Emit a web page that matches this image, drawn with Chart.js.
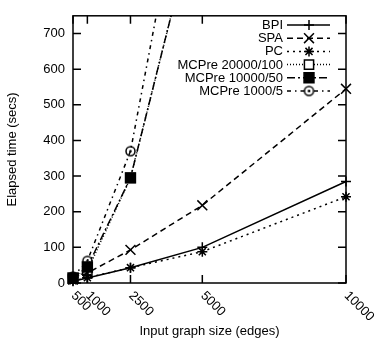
<!DOCTYPE html>
<html>
<head>
<meta charset="utf-8">
<script src="https://cdn.jsdelivr.net/npm/chart.js@4.4.0/dist/chart.umd.min.js"></script>
<style>
  html, body { margin: 0; padding: 0; background: #fff; }
  canvas { display: block; }
</style>
</head>
<body>
<canvas id="chart" width="376" height="342"></canvas>
<script>
// graph sizes (edges) and the labels shown under the x axis
const sizes = [500, 1000, 2500, 5000, 10000];
const sizeLabels = ['500', '1000', '2500', '5000', '10000'];
const yTicks = [0, 100, 200, 300, 400, 500, 600, 700];

// elapsed time in seconds
const bpi = [5, 14, 43, 100, 285];
const spa = [10, 28, 93, 218, 545];
const pc = [6, 15, 43, 88, 242];
const mcpre20000 = [12, 35, 295, 1100, null];
const mcpre10000 = [14, 45, 295, 1100, null];
const mcpre1000 = [18, 62, 370, 1430, null];

const FONT = 'Liberation Sans, Arial, Helvetica, sans-serif';

// open circle with a dot in the middle (gnuplot point type 6-ish)
function circleDot() {
  const c = document.createElement('canvas');
  c.width = 13; c.height = 13;
  const g = c.getContext('2d');
  g.lineWidth = 1.5;
  g.strokeStyle = '#000';
  g.beginPath(); g.arc(6.5, 6.5, 4.5, 0, Math.PI * 2); g.stroke();
  g.fillStyle = '#000';
  g.beginPath(); g.arc(6.5, 6.5, 1.3, 0, Math.PI * 2); g.fill();
  return c;
}

const pts = (ys) => sizes.map((x, i) => ({ x: x, y: ys[i] }));

// order: higher number is drawn first (underneath)
const series = [
  { label: 'BPI', data: bpi, dash: [], style: 'cross', r: 5, fill: '#000', order: 0 },
  { label: 'SPA', data: spa, dash: [6, 4], style: 'crossRot', r: 7, fill: '#000', order: 0 },
  { label: 'PC', data: pc, dash: [2, 4], style: 'star', r: 5, fill: '#000', order: 0 },
  { label: 'MCPre 20000/100', data: mcpre20000, dash: [1, 2], style: 'rect', r: 6.5, fill: '#fff', order: 2 },
  { label: 'MCPre 10000/50', data: mcpre10000, dash: [8, 3, 2, 3], style: 'rect', r: 7, fill: '#000', order: 1 },
  { label: 'MCPre 1000/5', data: mcpre1000, dash: [4, 4, 1.5, 4], style: circleDot(), r: 5, fill: '#fff', order: 0 },
];

const datasets = series.map(s => ({
  label: s.label,
  data: pts(s.data),
  order: s.order,
  borderColor: '#000',
  borderWidth: 1.5,
  borderDash: s.dash,
  pointStyle: s.style,
  pointRadius: s.r,
  pointBorderWidth: 1.5,
  pointBorderColor: '#000',
  pointBackgroundColor: s.fill,
  tension: 0,
  spanGaps: false,
  clip: { left: 10, top: 0, right: 10, bottom: 10 },
}));

function drawMarker(ctx, s, x, y) {
  ctx.save();
  ctx.setLineDash([]);
  ctx.lineWidth = 1.5;
  ctx.strokeStyle = '#000';
  ctx.fillStyle = s.fill;
  if (typeof s.style !== 'string') {
    ctx.drawImage(s.style, x - s.style.width / 2, y - s.style.height / 2);
  } else if (Chart.helpers && Chart.helpers.drawPoint) {
    Chart.helpers.drawPoint(ctx, { pointStyle: s.style, radius: s.r, rotation: 0, borderWidth: 1.5 }, x, y);
  }
  ctx.restore();
}

const framePlugin = {
  id: 'frame',
  afterDraw(chart) {
    const { ctx, chartArea: a, scales: { x, y } } = chart;
    ctx.save();
    ctx.strokeStyle = '#000';
    ctx.lineWidth = 1.5;
    ctx.setLineDash([]);
    ctx.strokeRect(a.left, a.top, a.right - a.left, a.bottom - a.top);

    // inward ticks on all four sides
    const tl = 8;
    ctx.beginPath();
    yTicks.forEach(v => {
      const py = y.getPixelForValue(v);
      ctx.moveTo(a.left, py); ctx.lineTo(a.left + tl, py);
      ctx.moveTo(a.right, py); ctx.lineTo(a.right - tl, py);
    });
    sizes.forEach(v => {
      const px = x.getPixelForValue(v);
      ctx.moveTo(px, a.bottom); ctx.lineTo(px, a.bottom - tl);
      ctx.moveTo(px, a.top); ctx.lineTo(px, a.top + tl);
    });
    ctx.stroke();

    // rotated x tick labels
    ctx.fillStyle = '#000';
    ctx.font = '13px ' + FONT;
    ctx.textAlign = 'left';
    ctx.textBaseline = 'top';
    sizes.forEach((v, i) => {
      const px = x.getPixelForValue(v);
      ctx.save();
      ctx.translate(px + 5, a.bottom + 6);
      ctx.rotate(Math.PI / 4);
      ctx.fillText(sizeLabels[i], 0, 0);
      ctx.restore();
    });

    // key in the top right corner
    const textRight = 283, lineL = 287, lineR = 330, mid = 309;
    const rowTop = 25, rowStep = 13.2;
    ctx.textAlign = 'right';
    ctx.textBaseline = 'middle';
    series.forEach((s, i) => {
      const ry = rowTop + i * rowStep;
      ctx.fillStyle = '#000';
      ctx.fillText(s.label, textRight, ry + 0.5);
      ctx.beginPath();
      ctx.setLineDash(s.dash);
      ctx.lineWidth = 1.5;
      ctx.moveTo(lineL, ry); ctx.lineTo(lineR, ry);
      ctx.stroke();
      drawMarker(ctx, s, mid, ry);
    });
    ctx.restore();
  }
};

new Chart(document.getElementById('chart'), {
  type: 'line',
  data: { datasets: datasets },
  options: {
    responsive: false,
    animation: false,
    events: [],
    layout: { padding: { top: 12, right: 30, bottom: 0, left: 0 } },
    plugins: { legend: { display: false }, tooltip: { enabled: false } },
    scales: {
      x: {
        type: 'linear',
        min: 500,
        max: 10000,
        grid: { display: false, drawTicks: false },
        border: { display: false },
        ticks: { display: false },
        title: {
          display: true,
          text: 'Input graph size (edges)',
          color: '#000',
          font: { family: FONT, size: 13 },
          padding: { top: 0, bottom: 3 },
        },
        afterFit(s) { s.height = 59; },
      },
      y: {
        min: 0,
        max: 750,
        grid: { display: false, drawTicks: false },
        border: { display: false },
        afterBuildTicks(s) { s.ticks = yTicks.map(v => ({ value: v })); },
        ticks: { color: '#000', font: { family: FONT, size: 13 }, padding: 8 },
        title: {
          display: true,
          text: 'Elapsed time (secs)',
          color: '#000',
          font: { family: FONT, size: 13 },
          padding: { top: 5, bottom: 0 },
        },
        afterFit(s) { s.width = 73; },
      },
    },
  },
  plugins: [framePlugin],
});
</script>
</body>
</html>
